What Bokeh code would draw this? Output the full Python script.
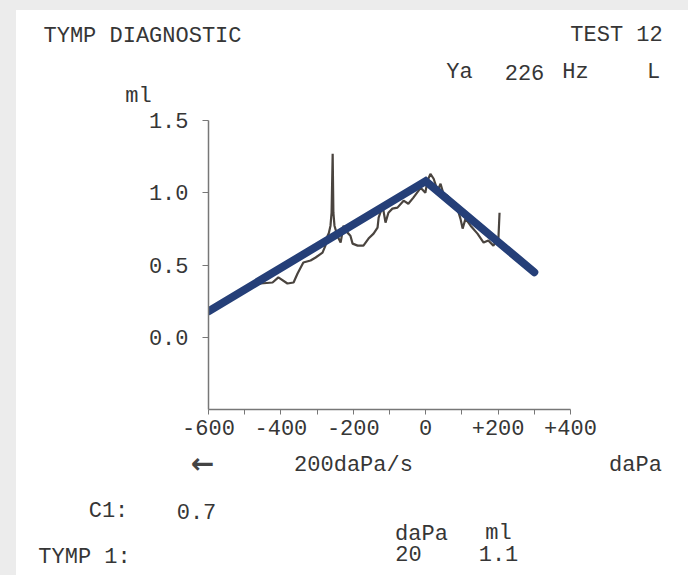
from bokeh.plotting import figure
from bokeh.models import FixedTicker, Range1d
from bokeh.layouts import column
from bokeh.core.properties import value
from bokeh.embed import file_html
from bokeh.resources import INLINE

# measured admittance trace (daPa, ml)
pressure = [-498, -456, -423, -407, -382, -365, -354, -338, -318, -304, -285, -277,
            -271, -268, -263, -260, -257, -255, -252, -244, -235, -227, -216, -208,
            -202, -188, -172, -158, -144, -133, -130, -119, -111, -103, -92, -78,
            -61, -48, -34, -14, -1, 5, 13, 22, 33, 41, 49, 60, 77, 91, 96, 102,
            110, 124, 143, 160, 173, 187, 201, 204]
volume = [0.345, 0.372, 0.379, 0.414, 0.372, 0.379, 0.441, 0.517, 0.531, 0.552, 0.586, 0.634,
          0.703, 0.717, 0.772, 0.862, 1.269, 0.862, 0.772, 0.703, 0.655, 0.772, 0.724, 0.703,
          0.648, 0.634, 0.634, 0.683, 0.717, 0.759, 0.828, 0.910, 0.793, 0.862, 0.890, 0.897,
          0.945, 0.924, 0.966, 1.034, 1.000, 1.083, 1.131, 1.097, 1.014, 1.062, 0.993, 0.979,
          0.931, 0.862, 0.821, 0.752, 0.821, 0.772, 0.717, 0.655, 0.669, 0.634, 0.690, 0.862]

# fitted tent line
fit_pressure = [-600, 0, 300]
fit_volume = [0.18, 1.08, 0.45]

x_ticks = [-600, -400, -200, 0, 200, 400]
x_tick_labels = ["-600", "-400", "-200", "0", "+200", "+400"]
x_minor_ticks = [-500, -300, -100, 100, 300]
y_ticks = [0.0, 0.5, 1.0, 1.5]
y_tick_labels = ["0.0", "0.5", "1.0", "1.5"]

# printout texts above the graph
header_text = ["TYMP DIAGNOSTIC", "TEST 12", "Ya", "226", "Hz", "L", "ml"]
header_x = [142, 616, 459, 524, 575, 653, 138]
header_y = [36, 35, 72, 72, 72, 72, 96]

# printout texts below the graph
footer_text = ["200daPa/s", "daPa", "C1:", "0.7", "daPa", "ml", "TYMP 1:", "20", "1.1"]
footer_x = [353, 635, 108, 196, 421, 498, 84, 408, 498]
footer_y = [465, 465, 511, 511, 534, 533, 557, 553, 553]

W = 688
LEFT = 16
TOP = 10
FONT = "Liberation Mono"
FS = "22px"
TXT = "#363636"


def text_panel(top, bottom, xs, ys, txt):
    f = figure(width=W - LEFT, height=bottom - top,
               x_range=Range1d(LEFT, W), y_range=Range1d(bottom, top),
               x_axis_type=None, y_axis_type=None,
               output_backend="svg", toolbar_location=None,
               min_border=0, frame_align=False)
    f.outline_line_color = None
    f.xgrid.visible = False
    f.ygrid.visible = False
    f.background_fill_color = "white"
    f.border_fill_color = "white"
    f.text(x=xs, y=ys, text=txt, text_align="center", text_baseline="middle",
           text_font=value(FONT), text_font_size=FS, text_color=TXT)
    return f


header = text_panel(TOP, 108, header_x, header_y, header_text)
footer = text_panel(445, 575, footer_x, footer_y, footer_text)
footer.text(x=[202], y=[463], text=["\u2190"], text_align="center", text_baseline="middle",
            text_font=value("DejaVu Sans"), text_font_size="28px", text_font_style="bold",
            text_color="#444444")

p = figure(width=W - LEFT, height=445 - 108,
           x_range=Range1d(-600, 400), y_range=Range1d(-0.5, 1.5),
           output_backend="svg", toolbar_location=None,
           min_border_left=208 - LEFT, min_border_right=118,
           min_border_top=120 - 108, min_border_bottom=445 - 409,
           frame_align=False)
p.background_fill_color = "white"
p.border_fill_color = "white"
p.outline_line_color = None
p.xgrid.visible = False
p.ygrid.visible = False

xa = p.xaxis[0]
xa.ticker = FixedTicker(ticks=x_ticks, minor_ticks=x_minor_ticks)
xa.major_label_overrides = {t: l for t, l in zip(x_ticks, x_tick_labels)}
xa.axis_line_color = "#777777"
xa.axis_line_width = 1.5
xa.major_tick_line_color = "#777777"
xa.minor_tick_line_color = "#777777"
xa.major_tick_in = 0
xa.major_tick_out = 5
xa.minor_tick_in = 0
xa.minor_tick_out = 5
xa.major_label_standoff = 5
xa.major_label_text_font = FONT
xa.major_label_text_font_size = FS
xa.major_label_text_color = TXT

ya = p.yaxis[0]
ya.ticker = FixedTicker(ticks=y_ticks, minor_ticks=[])
ya.major_label_overrides = {t: l for t, l in zip(y_ticks, y_tick_labels)}
ya.axis_line_color = "#777777"
ya.axis_line_width = 1.5
ya.major_tick_line_color = "#777777"
ya.major_tick_in = 0
ya.major_tick_out = 6
ya.minor_tick_line_color = None
ya.major_label_standoff = 14
ya.major_label_text_font = FONT
ya.major_label_text_font_size = FS
ya.major_label_text_color = TXT

p.line(pressure, volume, line_color="#4a443f", line_width=2.2)
p.line(fit_pressure, fit_volume, line_color="#253f78", line_width=8,
       line_cap="round", line_join="miter")

sheet = column(header, p, footer, spacing=0, margin=(TOP, 0, 0, LEFT),
               styles={"background-color": "white"})
layout = column(sheet, spacing=0, margin=0,
                styles={"background-color": "#ececec"})

open("out.html", "w").write(file_html(layout, INLINE))
